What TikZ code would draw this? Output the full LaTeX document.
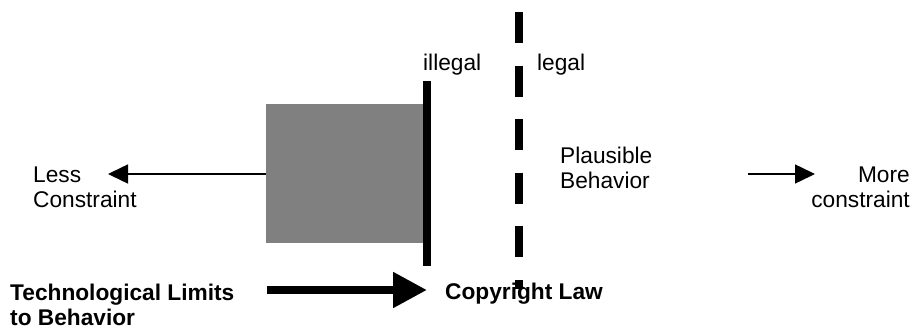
\documentclass[tikz,border=0pt]{standalone}
\usepackage{fontspec}
\setmainfont{Liberation Sans}
\usetikzlibrary{arrows.meta}
\begin{document}
\begin{tikzpicture}[x=1pt,y=-1pt,
  lbl/.style={inner sep=0pt,font=\fontsize{22.7}{24.5}\selectfont},
  blbl/.style={inner sep=0pt,font=\fontsize{22.7}{24.5}\selectfont\bfseries},
  thinarrow/.style={line width=1.5pt,-{Triangle[length=20pt,width=19pt]}},
  bigarrow/.style={line width=8pt,-{Triangle[length=34pt,width=34pt]}},
  bar/.style={line width=8pt},
  dashbar/.style={line width=8pt,dash pattern=on 31pt off 22.5pt}]
\useasboundingbox (0,0) rectangle (916,332);
% gray box
\node[fill=gray,minimum width=157pt,minimum height=139pt,inner sep=0pt,anchor=north west] (box) at (266,104) {};
% solid bar (illegal boundary)
\coordinate (bartop) at (427,81);
\coordinate (barbot) at (427,266);
\draw[bar] (bartop) -- (barbot);
% dashed bar (legal boundary)
\coordinate (dtop) at (519,12);
\coordinate (dbot) at (519,289);
\draw[dashbar] (dtop) -- (dbot);
% labels
\node[lbl,anchor=base west] (illegal) at (423,70) {illegal};
\node[lbl,anchor=base west] (legal) at (537,70) {legal};
\node[lbl,anchor=base west,align=left] (less) at (33,207) {Less\\Constraint};
\node[lbl,anchor=base west,align=left] (plaus) at (560,188) {Plausible\\Behavior};
\node[lbl,anchor=base east,align=right] (more) at (910,207) {More\\constraint};
\node[blbl,anchor=base west,align=left] (tech) at (10,325) {Technological Limits\\to Behavior};
\node[blbl,anchor=base west] (copy) at (445,299) {Copyright Law};
% arrows
\coordinate (lesstip) at (108,174);
\draw[thinarrow] (box.west |- lesstip) -- (lesstip);
\coordinate (morestart) at (748,174);
\coordinate (moretip) at (815,174);
\draw[thinarrow] (morestart) -- (moretip);
\coordinate (bigstart) at (267,290);
\coordinate (bigtip) at (427,290);
\draw[bigarrow] (bigstart) -- (bigtip);
\end{tikzpicture}
\end{document}
